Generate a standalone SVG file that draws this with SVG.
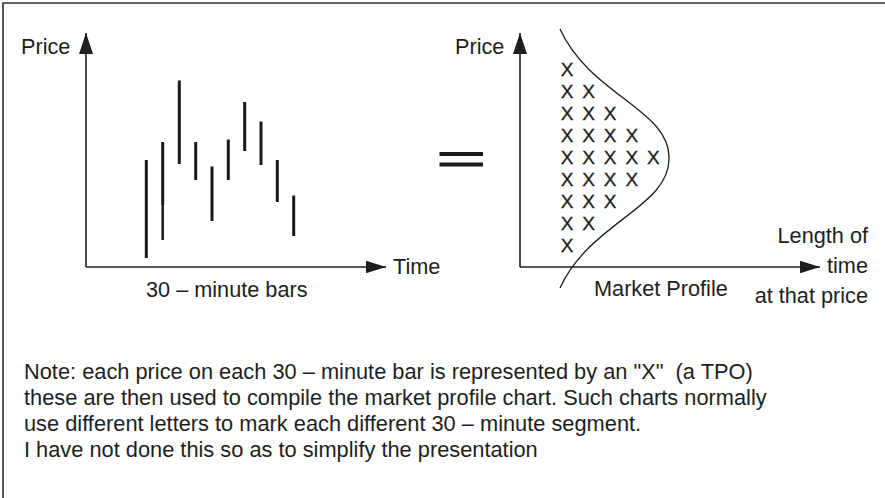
<svg xmlns="http://www.w3.org/2000/svg" width="885" height="498" viewBox="0 0 885 498">
  <style>
    text { font-family: "Liberation Sans", Arial, Helvetica, sans-serif; fill: #1e1e1e; }
    .lbl { font-size: 21.7px; }
    .note { font-size: 21.8px; }
    .x { font-size: 19px; text-anchor: middle; stroke: #1e1e1e; stroke-width: 0.3; }
    .axis { stroke: #1e1e1e; stroke-width: 1.6; fill: none; }
    .bar { stroke: #1a1a1a; stroke-width: 3; }
    .frame { stroke: #333; stroke-width: 1.6; fill: none; }
  </style>
  <defs>
    <marker id="arrV" markerUnits="userSpaceOnUse" viewBox="0 0 21 14" refX="21" refY="7" markerWidth="21" markerHeight="14" orient="auto">
      <path d="M0,0 L21,7 L0,14 z" fill="#1e1e1e"/>
    </marker>
    <marker id="arrH" markerUnits="userSpaceOnUse" viewBox="0 0 20 12.5" refX="20" refY="6.25" markerWidth="20" markerHeight="12.5" orient="auto">
      <path d="M0,0 L20,6.25 L0,12.5 z" fill="#1e1e1e"/>
    </marker>
  </defs>
  <rect width="885" height="498" fill="#fff"/>

  <g id="frame">
    <path class="frame" d="M3,498 V3 H885"/>
  </g>

  <g id="left-chart">
    <g id="left-axes">
      <path class="axis" d="M86,267 V33" marker-end="url(#arrV)"/>
      <path class="axis" d="M86,267 H386" marker-end="url(#arrH)"/>
    </g>
    <g id="bars">
      <line class="bar" x1="146.3" y1="160" x2="146.3" y2="258"/>
      <line class="bar" x1="162.7" y1="142" x2="162.7" y2="205"/>
      <line class="bar" x1="162.7" y1="205" x2="162.7" y2="240" style="stroke-width:2.5"/>
      <line class="bar" x1="179.3" y1="80.5" x2="179.3" y2="164"/>
      <line class="bar" x1="195.7" y1="142" x2="195.7" y2="180"/>
      <line class="bar" x1="212" y1="166.5" x2="212" y2="221"/>
      <line class="bar" x1="228.3" y1="139.5" x2="228.3" y2="180"/>
      <line class="bar" x1="244.7" y1="102" x2="244.7" y2="151"/>
      <line class="bar" x1="261" y1="121.5" x2="261" y2="165"/>
      <line class="bar" x1="277.3" y1="160" x2="277.3" y2="202"/>
      <line class="bar" x1="293.7" y1="195.5" x2="293.7" y2="236"/>
    </g>
    <text class="lbl" x="21" y="54">Price</text>
    <text class="lbl" x="393" y="274">Time</text>
    <text class="lbl" x="146" y="297">30 – minute bars</text>
  </g>

  <g id="equals">
    <rect x="439.5" y="152" width="43.5" height="4" fill="#1a1a1a"/>
    <rect x="439.5" y="162.5" width="43.5" height="4" fill="#1a1a1a"/>
  </g>

  <g id="right-chart">
    <g id="right-axes">
      <path class="axis" d="M520,267 V33" marker-end="url(#arrV)"/>
      <path class="axis" d="M520,267 H820" marker-end="url(#arrH)"/>
    </g>
    <path id="profile-curve" d="M560,29 C590,95 670,110 669,158 C670,207 590,222 560,288" fill="none" stroke="#1e1e1e" stroke-width="1.3"/>
    <g id="tpo">
      <text class="x" x="567" y="75.7">X</text>
      <text class="x" x="567" y="97.8">X</text>
      <text class="x" x="588.6" y="97.8">X</text>
      <text class="x" x="567" y="119.9">X</text>
      <text class="x" x="588.6" y="119.9">X</text>
      <text class="x" x="610.2" y="119.9">X</text>
      <text class="x" x="567" y="142">X</text>
      <text class="x" x="588.6" y="142">X</text>
      <text class="x" x="610.2" y="142">X</text>
      <text class="x" x="631.8" y="142">X</text>
      <text class="x" x="567" y="164">X</text>
      <text class="x" x="588.6" y="164">X</text>
      <text class="x" x="610.2" y="164">X</text>
      <text class="x" x="631.8" y="164">X</text>
      <text class="x" x="653.4" y="164">X</text>
      <text class="x" x="567" y="186.1">X</text>
      <text class="x" x="588.6" y="186.1">X</text>
      <text class="x" x="610.2" y="186.1">X</text>
      <text class="x" x="631.8" y="186.1">X</text>
      <text class="x" x="567" y="208.2">X</text>
      <text class="x" x="588.6" y="208.2">X</text>
      <text class="x" x="610.2" y="208.2">X</text>
      <text class="x" x="567" y="230.3">X</text>
      <text class="x" x="588.6" y="230.3">X</text>
      <text class="x" x="567" y="252.3">X</text>
    </g>
    <text class="lbl" x="455" y="54">Price</text>
    <text class="lbl" x="594" y="296">Market Profile</text>
    <text class="lbl" x="868" y="243" text-anchor="end">Length of</text>
    <text class="lbl" x="868" y="273" text-anchor="end">time</text>
    <text class="lbl" x="868" y="303" text-anchor="end">at that price</text>
  </g>

  <g id="note">
    <text class="note" x="24" y="379" xml:space="preserve">Note: each price on each 30 – minute bar is represented by an "X"  (a TPO)</text>
    <text class="note" x="24" y="405">these are then used to compile the market profile chart. Such charts normally</text>
    <text class="note" x="24" y="431">use different letters to mark each different 30 – minute segment.</text>
    <text class="note" x="24" y="457">I have not done this so as to simplify the presentation</text>
  </g>
</svg>
